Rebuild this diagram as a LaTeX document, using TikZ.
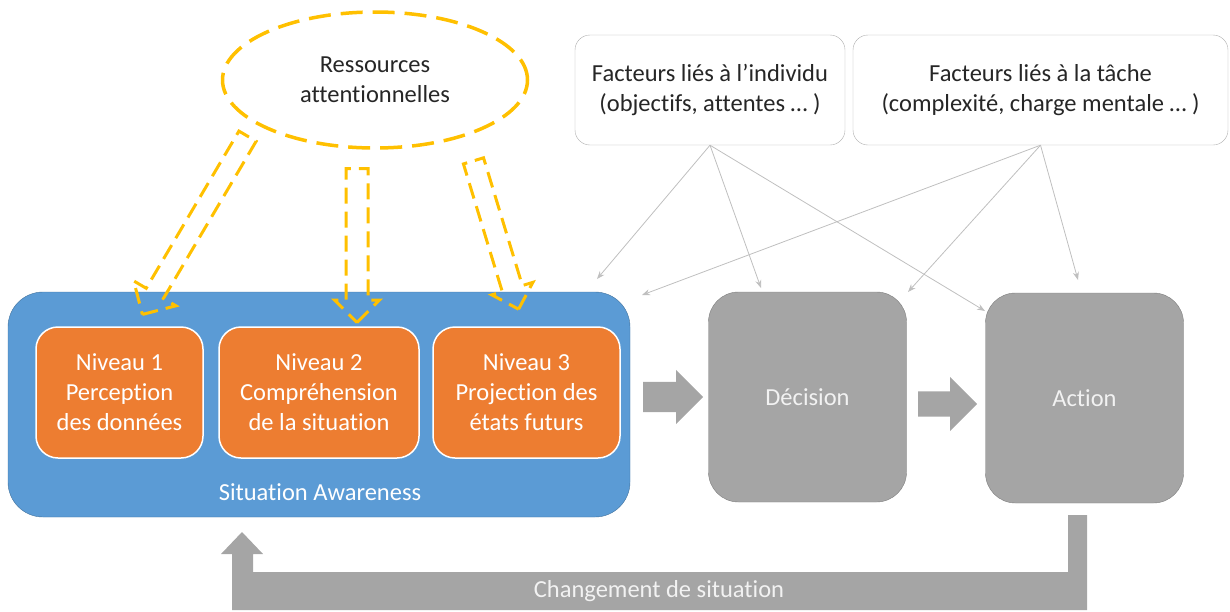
\documentclass[tikz,border=0pt]{standalone}
\usepackage{fontspec}
\setmainfont{Carlito}[Ligatures=CommonOff]
\usetikzlibrary{shapes.geometric, shapes.arrows, arrows.meta, positioning}

\definecolor{gold}{RGB}{255,192,0}
\definecolor{sablue}{RGB}{91,155,213}
\definecolor{sablueline}{RGB}{65,113,156}
\definecolor{lvlorange}{RGB}{237,125,49}
\definecolor{stepgray}{RGB}{165,165,165}
\definecolor{stepgrayline}{RGB}{127,127,127}
\definecolor{linkgray}{RGB}{191,191,191}
\definecolor{factline}{RGB}{175,175,175}
\definecolor{darktext}{RGB}{38,38,38}
\definecolor{lighttext}{RGB}{242,242,242}

\begin{document}
\begin{tikzpicture}[x=1pt, y=-1pt, font=\fontsize{24.5}{30}\selectfont,
    factor/.style={rectangle, rounded corners=15pt, draw=factline, fill=white,
        text=darktext, align=center, minimum height=110pt},
    level/.style={rectangle, rounded corners=22pt, draw=white, line width=1.5pt,
        fill=lvlorange, text=white, align=center, minimum height=131pt},
    stage/.style={rectangle, rounded corners=30pt, draw=stepgrayline, fill=stepgray,
        text=lighttext, minimum width=198pt, minimum height=210pt},
    blockarrow/.style={single arrow, fill=stepgray, inner xsep=0pt, anchor=tail,
        single arrow head indent=0pt},
    resarrow/.style={single arrow, draw=gold, line width=3pt, inner xsep=0pt,
        dash pattern=on 16pt off 8pt, sloped, allow upside down, midway,
        single arrow head indent=0pt},
    link/.style={draw=linkgray, line width=0.8pt, -{Stealth[length=8pt, width=6pt]}}]

    \useasboundingbox (0,0) rectangle (1230,611);

    % attention resources
    \node[ellipse, draw=gold, line width=3.5pt, dash pattern=on 22pt off 10pt,
        minimum width=305pt, minimum height=136pt, text=darktext, align=center]
        (res) at (375,80) {Ressources\\attentionnelles};

    % factors
    \node[factor, minimum width=270pt] (ind) at (710,90)
        {Facteurs liés à l’individu\\(objectifs, attentes … )};
    \node[factor, minimum width=375pt] (task) at (1040.5,90)
        {Facteurs liés à la tâche\\(complexité, charge mentale … )};

    % situation awareness
    \node[rectangle, rounded corners=35pt, draw=sablueline, fill=sablue,
        minimum width=622pt, minimum height=225pt] (sa) at (319,404.5) {};
    \node[level, minimum width=167pt] (lvl1) at (119.5,392.5)
        {Niveau 1\\Perception\\des données};
    \node[level, minimum width=200pt] (lvl2) at (319,392.5)
        {Niveau 2\\Compréhension\\de la situation};
    \node[level, minimum width=187pt] (lvl3) at (526.5,392.5)
        {Niveau 3\\Projection des\\états futurs};
    \node[text=white] (salabel) at (320,492) {Situation Awareness};

    % decision and action
    \node[stage] (dec) at (807.5,397) {Décision};
    \node[stage] (act) at (1084.5,398) {Action};

    \node[blockarrow, minimum height=60pt, inner ysep=15pt,
        single arrow head extend=12pt] (sa_dec) at (643,397) {};
    \node[blockarrow, minimum height=59pt, inner ysep=12.5pt,
        single arrow head extend=14.5pt] (dec_act) at (918,404) {};

    % resources towards the three levels
    \coordinate (r1a) at (250,132);
    \coordinate (r1b) at (145,310);
    \coordinate (r2a) at (357,163);
    \coordinate (r2b) at (357,317);
    \coordinate (r3a) at (472,156);
    \coordinate (r3b) at (517,304);
    \path (r1a) -- (r1b) node[resarrow, minimum height=207pt, inner ysep=8.5pt,
        single arrow head extend=14.5pt] (res_lvl1) {};
    \path (r2a) -- (r2b) node[resarrow, minimum height=154pt, inner ysep=9.5pt,
        single arrow head extend=11.5pt] (res_lvl2) {};
    \path (r3a) -- (r3b) node[resarrow, minimum height=155pt, inner ysep=9pt,
        single arrow head extend=11pt] (res_lvl3) {};

    % factor influences
    \coordinate (ind_sa) at (597,279);
    \coordinate (ind_dec) at (761,288);
    \coordinate (ind_act) at (985,311);
    \coordinate (task_sa) at (642,295);
    \coordinate (task_dec) at (908,292);
    \coordinate (task_act) at (1078,280);
    \path[link] (ind.south) -- (ind_sa);
    \path[link] (ind.south) -- (ind_dec);
    \path[link] (ind.south) -- (ind_act);
    \path[link] (task.south) -- (task_sa);
    \path[link] (task.south) -- (task_dec);
    \path[link] (task.south) -- (task_act);

    % feedback loop
    \fill[stepgray] (1068,515) -- (1087,515) -- (1087,610) -- (232,610)
        -- (232,554) -- (221,554) -- (242,532) -- (263,554) -- (253,554)
        -- (253,572) -- (1068,572) -- cycle;
    \node[text=lighttext] (loop) at (659,591) {Changement de situation};

\end{tikzpicture}
\end{document}
